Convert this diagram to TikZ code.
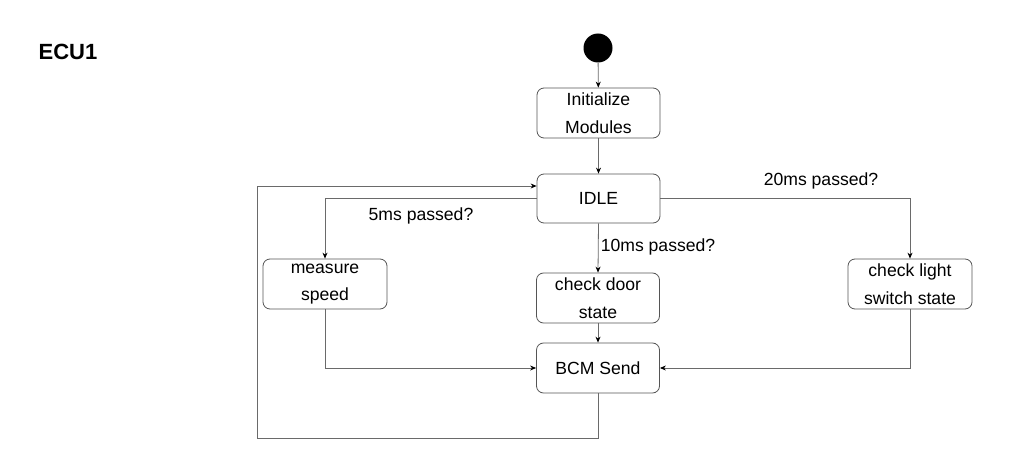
\documentclass[tikz,border=0pt]{standalone}
\usepackage{fontspec}
\setmainfont{Liberation Sans}
\usetikzlibrary{arrows.meta}
\definecolor{ln}{HTML}{6A6A6A}
\definecolor{bd}{HTML}{555555}
\begin{document}
\begin{tikzpicture}[x=1pt,y=-1pt,
  statebox/.style={draw=bd,line width=0.8pt,rounded corners=7pt,minimum width=123pt,minimum height=50pt,inner sep=0pt,align=center,font=\fontsize{17.6}{27.5}\selectfont},
  lbl/.style={inner sep=0pt,font=\fontsize{17.6}{21}\selectfont},
  conn/.style={draw=ln,line width=0.8pt,-{Stealth[length=6pt,width=5pt,black]}},
  plain/.style={draw=ln,line width=0.8pt}]
\useasboundingbox (0,0) rectangle (1012,457);
\fill[white] (0,0) rectangle (1012,457);
\node[lbl,font=\fontsize{22}{26}\selectfont\bfseries] (ecu) at (68,52) {ECU1};
\node[circle,fill=black,minimum size=29pt,inner sep=0pt] (start) at (598,48) {};
\node[statebox] (init) at (598.5,113) {Initialize\\Modules};
\node[statebox,minimum height=49pt] (idle) at (598.5,198.5) {IDLE};
\node[statebox,minimum width=124pt] (meas) at (325,284) {measure\\speed};
\node[statebox] (door) at (598,298) {check door\\state};
\node[statebox] (bcm) at (598,368) {BCM Send};
\node[statebox,minimum width=124pt] (light) at (910,284) {check light\\switch state};
\node[lbl] (l5) at (421,216) {5ms passed?};
\node[lbl] (l10) at (658,247) {10ms passed?};
\node[lbl] (l20) at (821,181) {20ms passed?};
\coordinate (lb) at (257,438);
\draw[conn] (start) -- (init);
\draw[conn] (init) -- (idle);
\draw[conn] (idle.west) -| (meas.north);
\draw[conn] (idle.south) -- (door.north);
\draw[conn] (idle.east) -| (light.north);
\draw[conn] (door.south) -- (bcm.north);
\draw[conn] (meas.south) |- (bcm.west);
\draw[conn] (light.south) |- (bcm.east);
\draw[conn] (bcm.south) |- (lb) |- ([yshift=12.5pt]idle.west);
\end{tikzpicture}
\end{document}
